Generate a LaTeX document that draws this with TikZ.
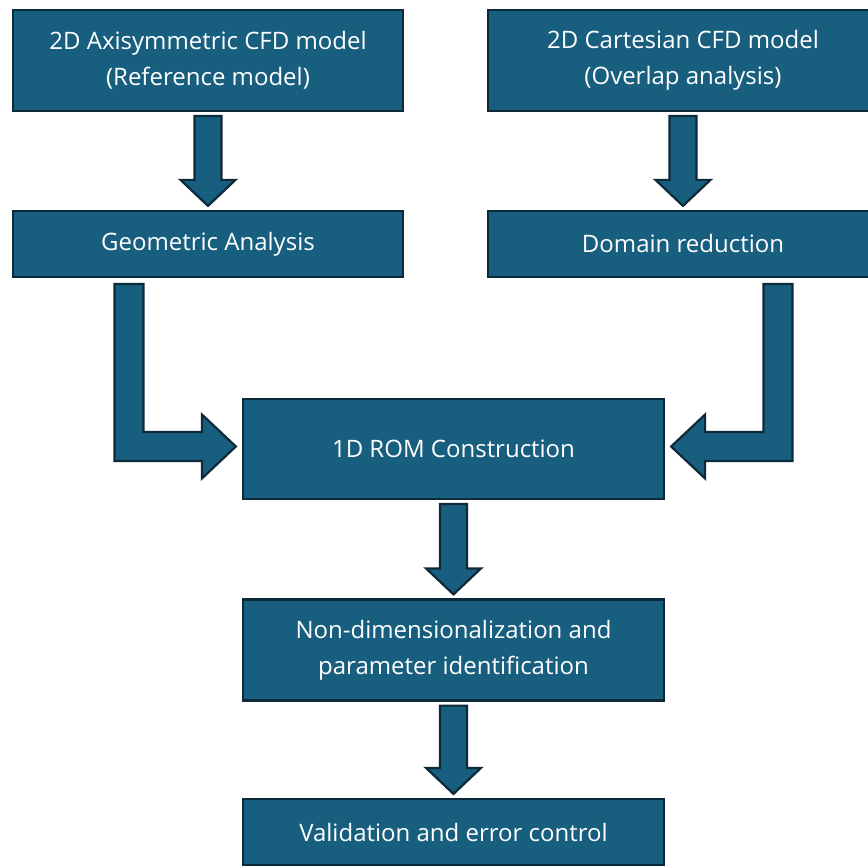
\documentclass[tikz,border=0pt]{standalone}
\usepackage{fontspec}
\setmainfont{Open Sans}
\usetikzlibrary{calc}

\definecolor{boxfill}{RGB}{24,94,127}
\definecolor{boxline}{RGB}{13,42,58}

\tikzset{
  stagebox/.style={draw=boxline, fill=boxfill, line width=2.2pt,
    text=white, inner sep=0pt, align=center,
    font=\fontsize{24}{36}\selectfont},
  blockarrow/.style={draw=boxline, fill=boxfill, line width=2.2pt, line join=miter},
}

% straight block arrow pointing down from node #1 to node #2
\newcommand\downblock[2]{%
  \coordinate (t) at ($(#1.south)+(0,4)$);
  \coordinate (p) at ($(#2.north)+(0,-4)$);
  \coordinate (tp) at (t |- p);
  \draw[blockarrow] ($(t)+(-13.5,0)$) -- ($(tp)+(-13.5,-26)$) -- ($(tp)+(-27.5,-26)$)
    -- (tp) -- ($(tp)+(27.5,-26)$) -- ($(tp)+(13.5,-26)$) -- ($(t)+(13.5,0)$) -- cycle;
}

\begin{document}
\begin{tikzpicture}[x=1pt, y=-1pt]
  \useasboundingbox (0,0) rectangle (868,866);

  % process stages
  \node[stagebox, minimum width=390pt, minimum height=101pt] (axi) at (208,60.5)
    {2D Axisymmetric CFD model\\(Reference model)};
  \node[stagebox, minimum width=390pt, minimum height=101pt] (cart) at (683,60.5)
    {2D Cartesian CFD model\\(Overlap analysis)};
  \node[stagebox, minimum width=390pt, minimum height=66pt] (geo) at (208,244)
    {Geometric Analysis};
  \node[stagebox, minimum width=390pt, minimum height=66pt] (dom) at (683,244)
    {Domain reduction};
  \node[stagebox, minimum width=421pt, minimum height=100pt] (rom) at (453.5,449)
    {1D ROM Construction};
  \node[stagebox, minimum width=421pt, minimum height=101pt] (nondim) at (453.5,650)
    {Non-dimensionalization and\\parameter identification};
  \node[stagebox, minimum width=421pt, minimum height=66pt] (valid) at (453.5,832)
    {Validation and error control};

  % straight arrows
  \downblock{axi}{geo}
  \downblock{cart}{dom}
  \downblock{rom}{nondim}
  \downblock{nondim}{valid}

  % elbow arrow: geometric analysis -> ROM
  \coordinate (ls) at ($(geo.south)+(-79,6)$);
  \coordinate (lw) at ($(rom.west)+(-6,-2.5)$);
  \coordinate (lk) at (ls |- lw);
  \draw[blockarrow] ($(ls)+(-14.5,0)$) -- ($(lk)+(-14.5,14.5)$) -- ($(lw)+(-34,14.5)$)
    -- ($(lw)+(-34,32)$) -- (lw) -- ($(lw)+(-34,-32)$) -- ($(lw)+(-34,-14.5)$)
    -- ($(lk)+(14.5,-14.5)$) -- ($(ls)+(14.5,0)$) -- cycle;

  % elbow arrow: domain reduction -> ROM
  \coordinate (rs) at ($(dom.south)+(95,6)$);
  \coordinate (rw) at ($(rom.east)+(6,-2.5)$);
  \coordinate (rk) at (rs |- rw);
  \draw[blockarrow] ($(rs)+(14.5,0)$) -- ($(rk)+(14.5,14.5)$) -- ($(rw)+(34,14.5)$)
    -- ($(rw)+(34,32)$) -- (rw) -- ($(rw)+(34,-32)$) -- ($(rw)+(34,-14.5)$)
    -- ($(rk)+(-14.5,-14.5)$) -- ($(rs)+(-14.5,0)$) -- cycle;
\end{tikzpicture}
\end{document}
